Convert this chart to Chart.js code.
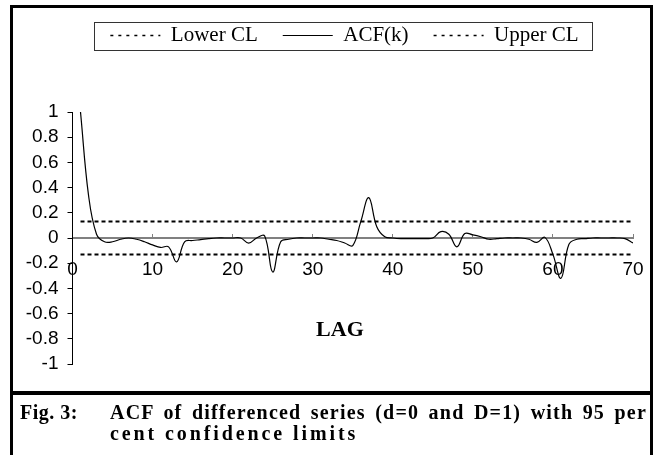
<!DOCTYPE html>
<html><head><meta charset="utf-8">
<script src="https://cdn.jsdelivr.net/npm/chart.js@4.4.0/dist/chart.umd.min.js"></script>
<style>
html,body{margin:0;padding:0;background:#fff;}
body{width:655px;height:455px;position:relative;overflow:hidden;}
#wrap{position:absolute;left:0;top:0;width:655px;height:390px;}
#frame{position:absolute;left:10px;top:5px;width:643px;height:470px;border:3px solid #000;box-sizing:border-box;pointer-events:none;}
#sep{position:absolute;left:10px;top:391px;width:643px;height:4px;background:#000;}
.cap{position:absolute;font-family:"Liberation Serif","Times New Roman",serif;font-weight:bold;font-size:20px;line-height:21px;color:#000;}
</style></head>
<body>
<div id="wrap"><canvas id="c"></canvas></div>
<div id="frame"></div><div id="sep"></div>
<div class="cap" style="left:20px;top:402px;white-space:nowrap;letter-spacing:0.5px;">Fig. 3:</div>
<div class="cap" style="left:110px;top:402px;width:537px;text-align:justify;text-align-last:justify;letter-spacing:1.2px;">ACF of differenced series (d=0 and D=1) with 95 per</div>
<div class="cap" style="left:110px;top:423px;letter-spacing:2.9px;white-space:nowrap;">cent confidence limits</div>
<script>
// ---- data ----
const lags = [1,2,3,4,5,6,7,8,9,10,11,12,13,14,15,16,17,18,19,20,21,22,23,24,25,26,27,28,29,30,31,32,33,34,35,36,37,38,39,40,41,42,43,44,45,46,47,48,49,50,51,52,53,54,55,56,57,58,59,60,61,62,63,64,65,66,67,68,69,70];
const acf = [1.0,0.34,0.03,-0.03,-0.03,-0.01,0.0,-0.01,-0.03,-0.055,
             -0.075,-0.07,-0.19,-0.03,-0.02,-0.013,-0.005,0.0,0.0,0.0,
             0.0,-0.04,0.0,0.015,-0.27,-0.03,-0.01,0.0,0.0,0.0,
             0.0,-0.01,-0.02,-0.04,-0.06,0.13,0.32,0.09,0.01,0.0,
             -0.005,-0.005,-0.005,-0.005,0.0,0.05,0.03,-0.07,0.035,0.025,
             0.01,-0.01,-0.005,0.0,0.0,0.0,-0.01,-0.035,0.005,-0.13,
             -0.32,-0.05,-0.01,-0.005,0.0,0.0,0.0,0.0,-0.005,-0.04];
const clLags = [1, 70];
const lowerCL = [-0.13, -0.13];
const upperCL = [0.13, 0.13];
const xTicks = [0,10,20,30,40,50,60,70];
const yTicks = [-1,-0.8,-0.6,-0.4,-0.2,0,0.2,0.4,0.6,0.8,1];
const seriesNames = ['Lower CL','ACF(k)','Upper CL'];
const xAxisTitle = 'LAG';

const toXY = (xs, ys) => xs.map((x, i) => ({x: x, y: ys[i]}));

const legendSpacer = {
  id: 'legendSpacer',
  beforeLayout(chart) {
    const lg = chart.legend;
    if (lg && !lg._patched) {
      const orig = lg.fit;
      lg.fit = function () { orig.call(this); this.height = 112; };
      lg._patched = true;
    }
  },
  afterLayout(chart) {
    const lg = chart.legend;
    if (lg) { lg.left = 56; lg.right = 633; lg.width = 577; }
  }
};
const legendFrame = {
  id: 'legendFrame',
  afterDraw(chart) {
    const hb = chart.legend && chart.legend.legendHitBoxes;
    if (!hb || !hb.length) return;
    let l = Infinity, r = -Infinity, c = 0;
    hb.forEach(b => { l = Math.min(l, b.left); r = Math.max(r, b.left + b.width); c = b.top + b.height / 2; });
    const ctx = chart.ctx;
    ctx.save();
    ctx.strokeStyle = '#333';
    ctx.lineWidth = 1;
    ctx.strokeRect(Math.round(l - 16) + 0.5, Math.round(c - 14) + 0.5, Math.round(r - l + 30), 28);
    ctx.restore();
  }
};
const axisTitle = {
  id: 'axisTitle',
  afterDraw(chart) {
    const ctx = chart.ctx, sx = chart.scales.x, sy = chart.scales.y;
    ctx.save();
    ctx.font = 'bold 22px "Liberation Serif", serif';
    ctx.fillStyle = '#000';
    ctx.textAlign = 'center';
    ctx.textBaseline = 'middle';
    ctx.fillText(xAxisTitle, sx.getPixelForValue(33.4), sy.getPixelForValue(-0.735));
    ctx.restore();
  }
};

new Chart(document.getElementById('c'), {
  type: 'line',
  data: {
    datasets: [
      {label: seriesNames[0], data: toXY(clLags, lowerCL), borderColor: '#000', borderWidth: 2, borderDash: [4, 3], pointRadius: 0, tension: 0, fill: false},
      {label: seriesNames[1], data: toXY(lags, acf), borderColor: '#000', borderWidth: 1.2, pointRadius: 0, tension: 0.4, fill: false},
      {label: seriesNames[2], data: toXY(clLags, upperCL), borderColor: '#000', borderWidth: 2, borderDash: [4, 3], pointRadius: 0, tension: 0, fill: false}
    ]
  },
  options: {
    responsive: true,
    maintainAspectRatio: false,
    animation: false,
    events: [],
    layout: {padding: {left: 0, right: 22, top: 0, bottom: 26}},
    plugins: {
      tooltip: {enabled: false},
      legend: {
        position: 'top',
        labels: {
          font: {family: '"Liberation Serif", serif', size: 21},
          color: '#000',
          usePointStyle: true,
          pointStyle: 'line',
          pointStyleWidth: 50,
          padding: 25,
          generateLabels(chart) {
            const items = Chart.defaults.plugins.legend.labels.generateLabels(chart);
            items.forEach(it => {
              if (it.text === seriesNames[1]) { it.lineDash = []; it.lineWidth = 1; }
              else { it.lineDash = [3, 5]; it.lineWidth = 1.5; }
              it.strokeStyle = '#000';
            });
            return items;
          }
        }
      }
    },
    scales: {
      x: {
        type: 'linear', min: 0, max: 70,
        position: {y: 0},
        afterBuildTicks(s) { s.ticks = xTicks.map(v => ({value: v})); },
        ticks: {font: {family: '"Liberation Sans", Arial, sans-serif', size: 19, lineHeight: '68px'}, color: '#000', padding: 3, maxRotation: 0, autoSkip: false, callback: v => String(v)},
        grid: {drawOnChartArea: false, drawTicks: true, tickLength: -5, color: '#808080', lineWidth: 1},
        border: {color: '#808080', width: 2}
      },
      y: {
        type: 'linear', min: -1, max: 1,
        afterBuildTicks(s) { s.ticks = yTicks.map(v => ({value: v})); },
        afterFit(s) { s.width = 72.5; },
        ticks: {font: {family: '"Liberation Sans", Arial, sans-serif', size: 19}, color: '#000', padding: 9, autoSkip: false, callback: v => String(v)},
        grid: {drawOnChartArea: false, drawTicks: true, tickLength: 5, color: '#000', lineWidth: 1},
        border: {color: '#000', width: 1}
      }
    }
  },
  plugins: [legendSpacer, legendFrame, axisTitle]
});
</script>
</body></html>
